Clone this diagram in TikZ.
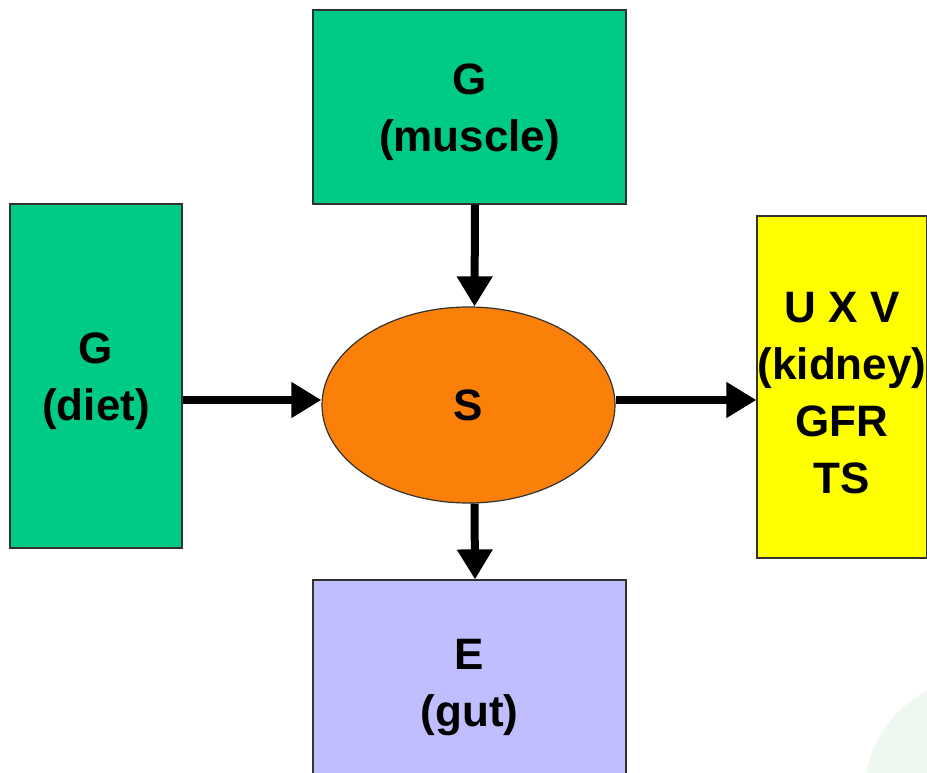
\documentclass[tikz,border=0pt]{standalone}
\usepackage{fontspec}
\setmainfont{Liberation Sans}
\usetikzlibrary{shapes.geometric,arrows.meta}
\definecolor{boxgreen}{RGB}{0,202,136}
\definecolor{sorange}{RGB}{250,128,10}
\definecolor{kyellow}{RGB}{255,255,0}
\definecolor{gutblue}{RGB}{192,190,255}
\definecolor{faintgreen}{RGB}{238,247,240}
\definecolor{edge}{RGB}{50,50,50}
\newcommand{\dn}{\rule{0pt}{42pt}}
\tikzset{
  box/.style={draw=edge, line width=1.2pt, rectangle, inner sep=0pt, align=center,
    font=\fontsize{44}{57}\selectfont\bfseries},
  arr/.style={line width=8pt, -{Triangle[length=30pt,width=34pt]}},
}
\begin{document}
\begin{tikzpicture}[x=1pt,y=-1pt]
\useasboundingbox (0,0) rectangle (927,773);
\clip (0,0) rectangle (927,773);
\fill[faintgreen] (978,792) circle (113);
\node[box, fill=boxgreen, minimum width=313, minimum height=194] (muscle) at (469.5,107) {\dn G\\(muscle)};
\node[box, fill=boxgreen, minimum width=172, minimum height=344] (diet) at (96,376) {\dn G\\(diet)};
\node[box, fill=kyellow, minimum width=170, minimum height=342] (kid) at (842,387) {\dn U X V\\(kidney)\\GFR\\TS};
\node[box, fill=gutblue, minimum width=313, minimum height=204] (gut) at (469.5,682) {\dn E\\(gut)};
\node[box, shape=ellipse, fill=sorange, minimum width=293, minimum height=196] (s) at (468.5,405) {S};
\coordinate (h) at (0,400);
\draw[arr] (diet.east |- h) -- (s.west |- h);
\draw[arr] (s.east |- h) -- (kid.west |- h);
\draw[arr] ([xshift=5.5]muscle.south) -- ([xshift=6]s.north);
\draw[arr] ([xshift=6]s.south) -- ([xshift=5.5]gut.north);
\end{tikzpicture}
\end{document}
